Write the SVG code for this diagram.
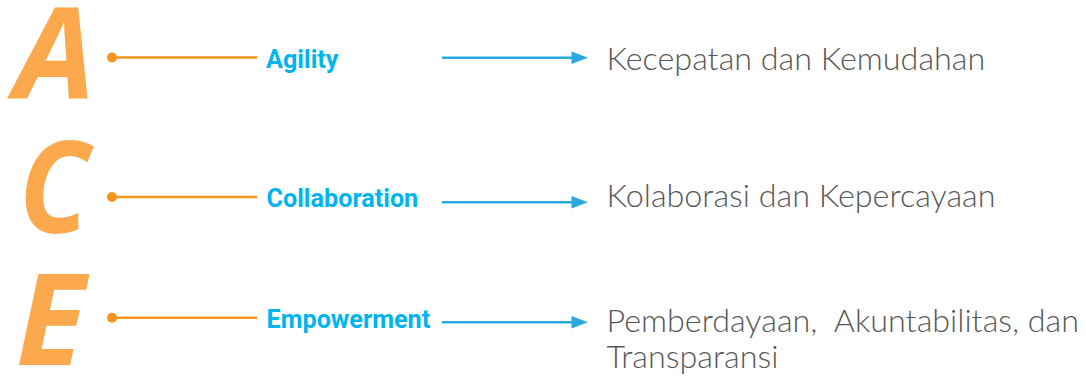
<svg xmlns="http://www.w3.org/2000/svg" width="1086" height="379" viewBox="0 0 1086 379">
<defs>
<style>
.big{font-family:"Open Sans","Liberation Sans",sans-serif;font-weight:700;font-style:italic;font-size:128px;fill:#FBA94C;text-anchor:middle}
.lbl{font-family:Roboto,"Liberation Sans",sans-serif;font-weight:700;font-size:25.2px;fill:#00B4EE}
.desc{font-family:Lato,"Open Sans",sans-serif;font-weight:300;font-size:32.3px;fill:#575757;white-space:pre}
.oline{stroke:#F7941D;stroke-width:2.4;fill:none}
.dot{fill:#F7941D}
.arrow{stroke:#29A9E0;stroke-width:2.4;fill:none}
.ahead{fill:#29A9E0}
</style>
</defs>
<rect width="1086" height="379" fill="#FFFFFF"/>
<g id="node-A">
<text class="big" x="55" y="99">A</text>
<text class="lbl" x="266" y="68.3">Agility</text>
</g>
<g id="node-C">
<text class="big" transform="translate(54,232.7) scale(0.9,1)" x="0" y="0">C</text>
<text class="lbl" x="266.5" y="206.7">Collaboration</text>
</g>
<g id="node-E">
<text class="big" x="50.5" y="365">E</text>
<text class="lbl" x="266.5" y="328.3">Empowerment</text>
</g>
<g id="desc-A">
<text class="desc" x="606.5" y="70">Kecepatan dan Kemudahan</text>
</g>
<g id="desc-C">
<text class="desc" x="606.5" y="206.7">Kolaborasi dan Kepercayaan</text>
</g>
<g id="desc-E">
<text class="desc" x="606.5" y="331.7" xml:space="preserve">Pemberdayaan,  Akuntabilitas, dan</text>
<text class="desc" x="606.5" y="368.3">Transparansi</text>
</g>
<g id="connectors">
<circle class="dot" cx="112" cy="57.5" r="5"/>
<line class="oline" x1="112" y1="57.5" x2="257" y2="57.5"/>
<circle class="dot" cx="112" cy="197" r="5"/>
<line class="oline" x1="112" y1="197" x2="257" y2="197"/>
<circle class="dot" cx="112" cy="317.7" r="5"/>
<line class="oline" x1="112" y1="317.7" x2="257" y2="317.7"/>
<line class="arrow" x1="442" y1="57.7" x2="574" y2="57.7"/>
<polygon class="ahead" points="571.5,51.5 588,57.7 571.5,63.9"/>
<line class="arrow" x1="442" y1="202.3" x2="574" y2="202.3"/>
<polygon class="ahead" points="571.5,196.1 588,202.3 571.5,208.5"/>
<line class="arrow" x1="442" y1="322.3" x2="574" y2="322.3"/>
<polygon class="ahead" points="571.5,316.1 588,322.3 571.5,328.5"/>
</g>
</svg>
